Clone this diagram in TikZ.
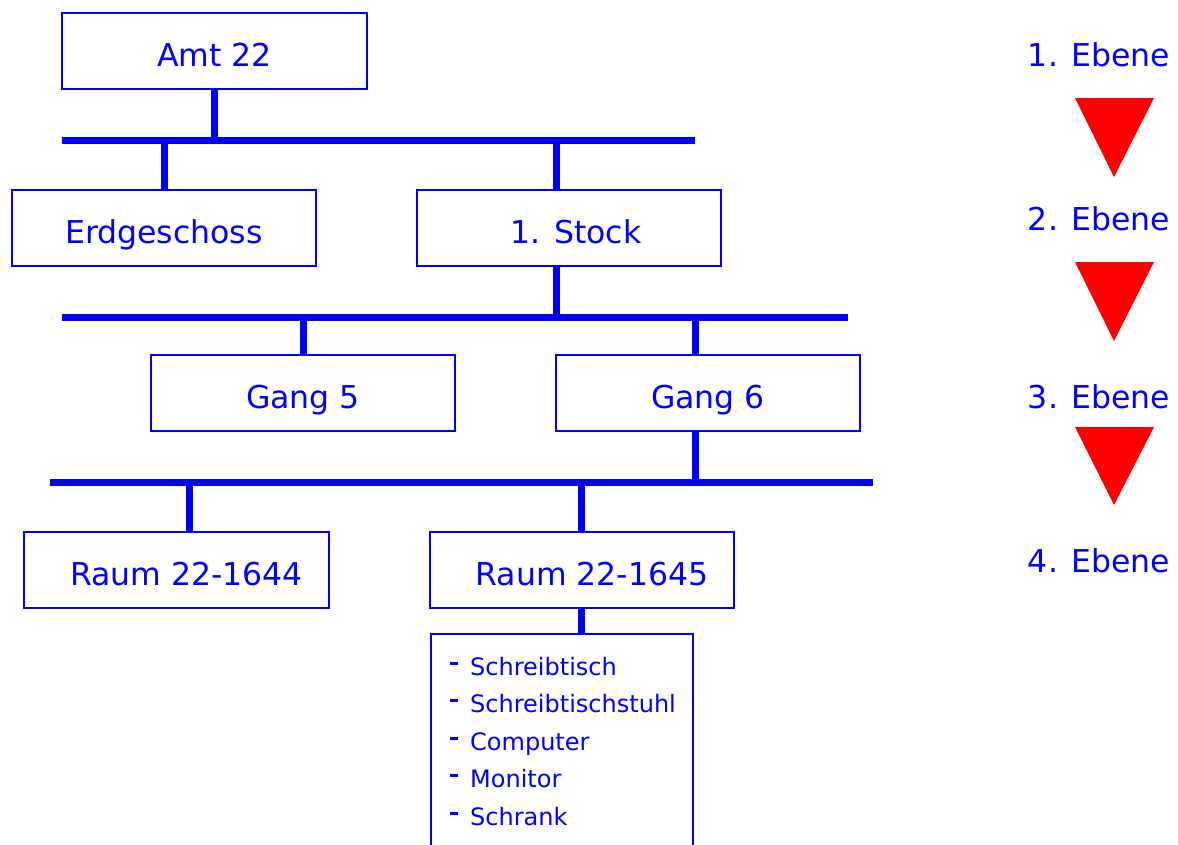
\documentclass[tikz,border=0pt]{standalone}
\usepackage{fontspec}
\setmainfont{DejaVu Sans}
\definecolor{pblue}{RGB}{0,0,255}
\definecolor{pred}{RGB}{255,0,0}
\begin{document}
\begin{tikzpicture}[x=1pt,y=-1pt,
  box/.style={draw=pblue, line width=2pt, minimum width=305pt, minimum height=76pt, inner sep=0pt, text=pblue, font=\fontsize{31.5}{36}\selectfont, text height=31pt, text depth=0pt},
  bus/.style={draw=pblue, line width=7pt},
  drop/.style={draw=pblue, line width=7pt},
  lvl/.style={text=pblue, font=\fontsize{31.5}{36}\selectfont, anchor=base, inner sep=0pt},
  tri/.style={fill=pred},
  item/.style={text=pblue, font=\fontsize{24}{28}\selectfont, anchor=base west, inner sep=0pt}]
\useasboundingbox (0,0) rectangle (1178,844);
\clip (0,0) rectangle (1178,844);
% boxes
\node[box] (amt) at (214.5,51) {Amt 22};
\node[box, minimum width=304pt] (erd) at (164,228) {Erdgeschoss};
\node[box, minimum width=304pt] (st1) at (569,228) {\hspace*{14pt}1. Stock};
\node[box, minimum width=304pt] (g5) at (303,393) {Gang 5};
\node[box, minimum width=304pt] (g6) at (708,393) {Gang 6};
\node[box] (r44) at (176.5,570) {\hspace*{20pt}Raum 22-1644};
\node[box, minimum width=304pt] (r45) at (582,570) {\hspace*{20pt}Raum 22-1645};
\node[draw=pblue, line width=2pt, minimum width=262pt, minimum height=240pt, inner sep=0pt, anchor=north west] (list) at (430,633) {};
% list items
\newcommand{\itemdash}{\makebox[20pt][l]{\rule[10pt]{8pt}{3pt}}}
\node[item] (i1) at (450,675) {\itemdash Schreibtisch};
\node[item] (i2) at (450,712) {\itemdash Schreibtischstuhl};
\node[item] (i3) at (450,750) {\itemdash Computer};
\node[item] (i4) at (450,787) {\itemdash Monitor};
\node[item] (i5) at (450,825) {\itemdash Schrank};
% buses
\coordinate (b1l) at (62,140);
\coordinate (b1r) at (695,140);
\coordinate (b2l) at (62,317);
\coordinate (b2r) at (848,317);
\coordinate (b3l) at (50,482);
\coordinate (b3r) at (873,482);
\draw[bus] (b1l) -- (b1r);
\draw[bus] (b2l) -- (b2r);
\draw[bus] (b3l) -- (b3r);
% drops
\coordinate (dA) at (214,140);
\coordinate (dE) at (164,140);
\coordinate (dS) at (556,140);
\coordinate (dS2) at (556,317);
\coordinate (dG5) at (303,317);
\coordinate (dG6) at (695,317);
\coordinate (dG6b) at (695,482);
\coordinate (dR44) at (189,482);
\coordinate (dR45) at (581,482);
\draw[drop] (dA) -- (dA |- amt.south);
\draw[drop] (dE) -- (dE |- erd.north);
\draw[drop] (dS) -- (dS |- st1.north);
\draw[drop] (dS2) -- (dS2 |- st1.south);
\draw[drop] (dG5) -- (dG5 |- g5.north);
\draw[drop] (dG6) -- (dG6 |- g6.north);
\draw[drop] (dG6b) -- (dG6b |- g6.south);
\draw[drop] (dR44) -- (dR44 |- r44.north);
\draw[drop] (dR45) -- (dR45 |- r45.north);
\coordinate (dL) at (581,608);
\draw[drop] (dL |- r45.south) -- (dL |- list.north);
% levels
\node[lvl] (e1) at (1099,66) {1. Ebene};
\node[lvl] (e2) at (1099,230) {2. Ebene};
\node[lvl] (e3) at (1099,408) {3. Ebene};
\node[lvl] (e4) at (1099,572) {4. Ebene};
\fill[tri] (1075,98) -- (1154,98) -- (1114,177) -- cycle;
\fill[tri] (1075,262) -- (1154,262) -- (1114,341) -- cycle;
\fill[tri] (1075,427) -- (1154,427) -- (1114,505) -- cycle;
\end{tikzpicture}
\end{document}
